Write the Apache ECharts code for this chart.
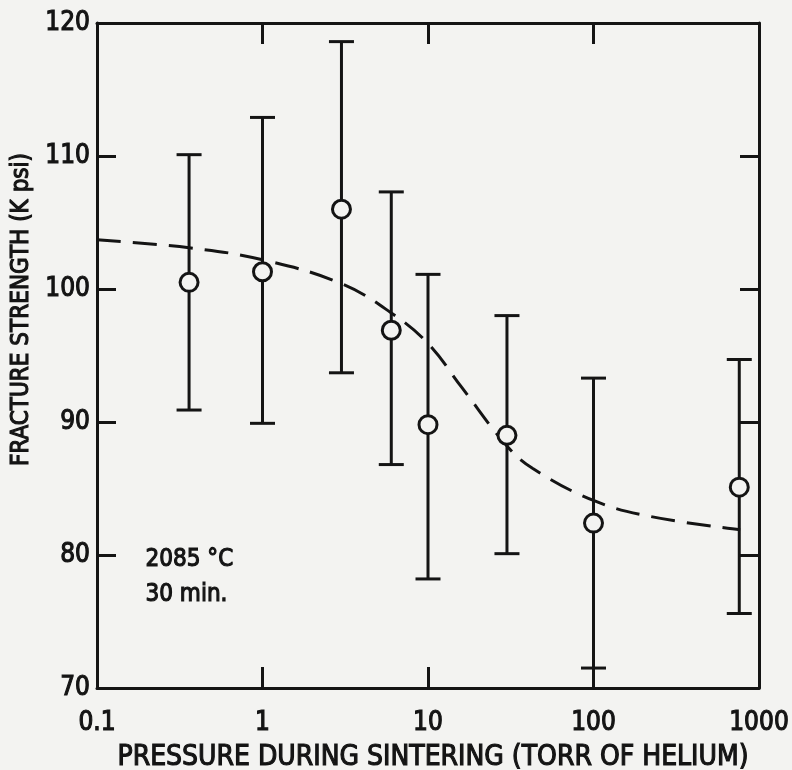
<!DOCTYPE html>
<html>
<head>
<meta charset="utf-8">
<script src="https://cdn.jsdelivr.net/npm/echarts@6/dist/echarts.min.js"></script>
<style>
html,body{margin:0;padding:0;background:#f3f3f1;}
#chart{width:792px;height:770px;}
</style>
</head>
<body>
<div id="chart"></div>
<script>
// Data
const pressure = [0.36, 1, 3, 6, 10, 30, 100, 760];
const strength = [100.5, 101.3, 106.0, 96.9, 89.8, 89.0, 82.4, 85.1];
const errHigh  = [110.1, 112.9, 118.6, 107.3, 101.1, 98.0, 93.3, 94.7];
const errLow   = [90.9, 89.9, 93.7, 86.8, 78.2, 80.1, 71.5, 75.6];
const curveX   = [0.1, 0.36, 1, 3, 6, 10, 16, 30, 43, 100, 220, 770];
const curveY   = [103.7, 103.1, 102.2, 100.4, 98.2, 95.9, 92.6, 88.2, 86.5, 84.1, 82.9, 81.9];
const xTickLabels = ['0.1', '1', '10', '100', '1000'];
const yTickLabels = ['70', '80', '90', '100', '110', '120'];

const INK = '#141414';
const BG = '#f3f3f1';
const FONT = '"DejaVu Sans Condensed", "DejaVu Sans", sans-serif';
const HEAVY = {textBorderColor: INK, textBorderWidth: 1.1};

const pts = pressure.map((p, i) => [p, strength[i]]);
const bars = pressure.map((p, i) => [p, errLow[i], errHigh[i]]);
const curve = curveX.map((x, i) => [x, curveY[i]]);

const chart = echarts.init(document.getElementById('chart'), null, {renderer: 'canvas'});

const xCommon = {
  type: 'log', logBase: 10, min: 0.1, max: 1000,
  axisLine: {show: true, onZero: false, lineStyle: {color: INK, width: 3}},
  axisTick: {show: true, inside: true, length: 21, lineStyle: {color: INK, width: 3}},
  splitLine: {show: false}, minorTick: {show: false}
};
const yCommon = {
  type: 'value', min: 70, max: 120, interval: 10,
  axisLine: {show: true, onZero: false, lineStyle: {color: INK, width: 3}},
  axisTick: {show: true, inside: true, length: 19, lineStyle: {color: INK, width: 3}},
  splitLine: {show: false}
};

chart.setOption({
  backgroundColor: BG,
  animation: false,
  grid: {left: 97, right: 33, top: 23, bottom: 82, containLabel: false, outerBoundsMode: 'none'},
  xAxis: [
    Object.assign({}, xCommon, {
      position: 'bottom',
      name: 'PRESSURE DURING SINTERING (TORR OF HELIUM)',
      nameLocation: 'middle', nameGap: 56,
      nameTextStyle: Object.assign({color: INK, fontFamily: FONT, fontSize: 28, padding: [0, 0, 0, 10]}, HEAVY),
      axisLabel: Object.assign({
        show: true, margin: 22, color: INK, fontFamily: FONT, fontSize: 26,
        formatter: v => xTickLabels[Math.round(Math.log10(v)) + 1]
      }, HEAVY)
    }),
    Object.assign({}, xCommon, {position: 'top', axisLabel: {show: false}})
  ],
  yAxis: [
    Object.assign({}, yCommon, {
      position: 'left',
      name: 'FRACTURE STRENGTH (K psi)',
      nameLocation: 'middle', nameGap: 54, nameRotate: 90,
      nameTextStyle: Object.assign({color: INK, fontFamily: FONT, fontSize: 24, padding: [0, 0, 0, 92]}, HEAVY),
      axisLabel: Object.assign({
        show: true, margin: 7, color: INK, fontFamily: FONT, fontSize: 26,
        formatter: v => yTickLabels[Math.round((v - 70) / 10)]
      }, HEAVY)
    }),
    Object.assign({}, yCommon, {position: 'right', axisLabel: {show: false}})
  ],
  graphic: [
    {type: 'text', left: 145, top: 547, style: {text: '2085 °C', fill: INK, stroke: INK, lineWidth: 1.1, font: '24px ' + FONT}},
    {type: 'text', left: 145, top: 582, style: {text: '30 min.', fill: INK, stroke: INK, lineWidth: 1.1, font: '24px ' + FONT}}
  ],
  series: [
    {
      type: 'line', data: curve, smooth: 0.4, symbol: 'none', z: 2,
      lineStyle: {color: INK, width: 3, type: [24, 12]}
    },
    {
      type: 'custom', data: bars, z: 3,
      renderItem: function (params, api) {
        const x = api.value(0), lo = api.value(1), hi = api.value(2);
        const a = api.coord([x, hi]), b = api.coord([x, lo]);
        const w = 12.5;
        const st = {stroke: INK, lineWidth: 3};
        return {type: 'group', children: [
          {type: 'line', shape: {x1: a[0], y1: a[1], x2: b[0], y2: b[1]}, style: st},
          {type: 'line', shape: {x1: a[0] - w, y1: a[1], x2: a[0] + w, y2: a[1]}, style: st},
          {type: 'line', shape: {x1: b[0] - w, y1: b[1], x2: b[0] + w, y2: b[1]}, style: st}
        ]};
      }
    },
    {
      type: 'scatter', data: pts, symbol: 'circle', symbolSize: 18, z: 4,
      itemStyle: {color: BG, borderColor: INK, borderWidth: 3, opacity: 1}
    }
  ]
});
</script>
</body>
</html>
